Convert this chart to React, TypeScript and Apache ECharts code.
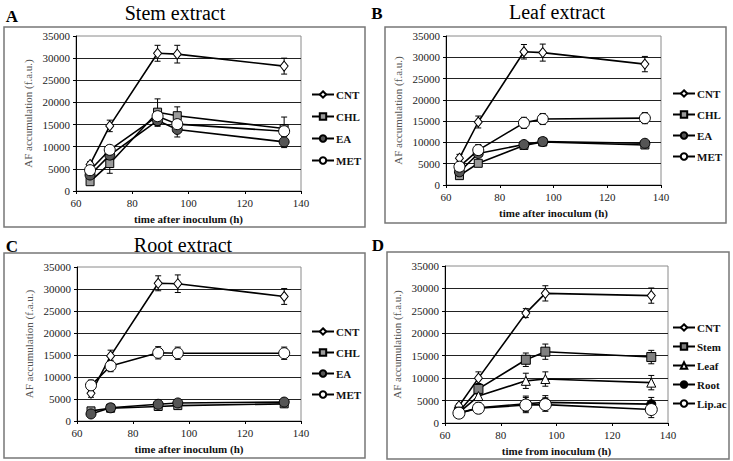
import React from "react";
import * as echarts from "echarts";

// sampling times (h) and axis ticks
const hours = [65, 72, 89, 96, 134];
const xTicks = [60, 80, 100, 120, 140];
const yTicks = [0, 5000, 10000, 15000, 20000, 25000, 30000, 35000];

const extractNames = ["CNT", "CHL", "EA", "MET"];
const organNames = ["CNT", "Stem", "Leaf", "Root", "Lip.ac"];

// A - stem extract
const stemCNT = [6000, 14700, 31100, 30900, 28200];
const stemCNTErr = [600, 1300, 1800, 2000, 1800];
const stemCHL = [2100, 6200, 17800, 17000, 14100];
const stemCHLErr = [400, 2200, 3000, 2000, 2600];
const stemEA = [3600, 8100, 15900, 13900, 11100];
const stemEAErr = [500, 800, 1300, 1700, 1300];
const stemMET = [4700, 9300, 16900, 15100, 13500];
const stemMETErr = [500, 800, 1200, 1300, 1200];

// B - leaf extract
const leafCNT = [6300, 14800, 31300, 31100, 28400];
const leafCNTErr = [900, 1400, 1700, 2000, 1800];
const leafCHL = [2200, 5100, 9300, 10100, 9400];
const leafCHLErr = [300, 400, 500, 500, 400];
const leafEA = [3100, 7400, 9500, 10200, 9800];
const leafEAErr = [400, 600, 500, 500, 500];
const leafMET = [4300, 8200, 14600, 15500, 15700];
const leafMETErr = [600, 1300, 1300, 1300, 1300];

// C - root extract
const rootCNT = [6300, 14800, 31300, 31200, 28300];
const rootCNTErr = [900, 1300, 1700, 2000, 1800];
const rootCHL = [2300, 2900, 3300, 3500, 3900];
const rootCHLErr = [300, 300, 300, 300, 300];
const rootEA = [1600, 3000, 3800, 4100, 4300];
const rootEAErr = [300, 300, 300, 300, 300];
const rootMET = [8100, 12500, 15500, 15400, 15400];
const rootMETErr = [1200, 1300, 1400, 1400, 1400];

// D - organs
const organCNT = [3800, 10000, 24500, 28900, 28400];
const organCNTErr = [500, 1400, 1000, 1700, 1700];
const organStem = [2500, 7600, 14100, 15900, 14700];
const organStemErr = [400, 1200, 1500, 1700, 1500];
const organLeaf = [2300, 6000, 9400, 9800, 9000];
const organLeafErr = [400, 1000, 1700, 1600, 1600];
const organRoot = [2200, 3400, 4300, 4600, 4200];
const organRootErr = [400, 900, 1700, 1500, 1500];
const organLip = [2200, 3300, 4000, 4100, 3000];
const organLipErr = [400, 1200, 1700, 1500, 1800];

const FONT = "'Liberation Serif', 'DejaVu Serif', serif";

type Mark = { symbol: string; size: number | number[]; fill: string };
const marks: Record<string, Mark> = {
  CNT: { symbol: "diamond", size: [8, 10], fill: "#fff" },
  CHL: { symbol: "rect", size: 8, fill: "#9a9a9a" },
  EA: { symbol: "circle", size: 10, fill: "#555" },
  MET: { symbol: "circle", size: 11, fill: "#fff" },
  Stem: { symbol: "rect", size: 9, fill: "#808080" },
  Leaf: { symbol: "triangle", size: 9, fill: "#fff" },
  Root: { symbol: "circle", size: 9, fill: "#000" },
  "Lip.ac": { symbol: "circle", size: 12, fill: "#fff" },
};

const panels = [
  {
    letter: "A", letterPos: [12, 16], title: "Stem extract", titlePos: [175, 13],
    grid: { left: 76, top: 36, width: 225, height: 155 },
    frame: [4, 27, 361, 200],
    legend: { left: 306, top: 84, itemGap: 11 },
    xName: "time after inoculum (h)",
    names: extractNames,
    values: [stemCNT, stemCHL, stemEA, stemMET],
    errors: [stemCNTErr, stemCHLErr, stemEAErr, stemMETErr],
  },
  {
    letter: "B", letterPos: [377, 13], title: "Leaf extract", titlePos: [557, 12],
    grid: { left: 446, top: 36, width: 215, height: 149 },
    frame: [385, 27, 341, 196],
    legend: { left: 667, top: 83, itemGap: 10 },
    xName: "time after inoculum (h)",
    names: extractNames,
    values: [leafCNT, leafCHL, leafEA, leafMET],
    errors: [leafCNTErr, leafCHLErr, leafEAErr, leafMETErr],
  },
  {
    letter: "C", letterPos: [12, 246], title: "Root extract", titlePos: [183, 245],
    grid: { left: 77, top: 267, width: 224, height: 154 },
    frame: [4, 253, 361, 205],
    legend: { left: 306, top: 321, itemGap: 10 },
    xName: "time after inoculum (h)",
    names: extractNames,
    values: [rootCNT, rootCHL, rootEA, rootMET],
    errors: [rootCNTErr, rootCHLErr, rootEAErr, rootMETErr],
  },
  {
    letter: "D", letterPos: [378, 245], title: "", titlePos: [0, 0],
    grid: { left: 445, top: 266, width: 223, height: 157 },
    frame: [387, 252, 342, 207],
    legend: { left: 667, top: 317, itemGap: 8 },
    xName: "time from inoculum (h)",
    names: organNames,
    values: [organCNT, organStem, organLeaf, organRoot, organLip],
    errors: [organCNTErr, organStemErr, organLeafErr, organRootErr, organLipErr],
  },
];

function errorBars(params: any, api: any) {
  const x = api.value(0);
  const top = api.coord([x, api.value(2)]);
  const bottom = api.coord([x, api.value(1)]);
  const w = 3;
  const style = { stroke: "#000", lineWidth: 1 };
  return {
    type: "group",
    children: [
      { type: "line", shape: { x1: top[0], y1: top[1], x2: bottom[0], y2: bottom[1] }, style },
      { type: "line", shape: { x1: top[0] - w, y1: top[1], x2: top[0] + w, y2: top[1] }, style },
      { type: "line", shape: { x1: bottom[0] - w, y1: bottom[1], x2: bottom[0] + w, y2: bottom[1] }, style },
    ],
  };
}

function buildOption() {
  const grid: any[] = [];
  const xAxis: any[] = [];
  const yAxis: any[] = [];
  const legend: any[] = [];
  const series: any[] = [];
  const graphic: any[] = [];

  panels.forEach((p, pi) => {
    grid.push({ ...p.grid, show: true, borderColor: "#8a8a8a", borderWidth: 1, backgroundColor: "transparent" });
    xAxis.push({
      gridIndex: pi, type: "value", min: xTicks[0], max: xTicks[xTicks.length - 1],
      interval: xTicks[1] - xTicks[0],
      name: p.xName, nameLocation: "middle", nameGap: 22,
      nameTextStyle: { fontFamily: FONT, fontSize: 11, fontWeight: "bold", color: "#111" },
      axisLine: { lineStyle: { color: "#000", width: 1 } },
      axisTick: { length: 3, lineStyle: { color: "#000" } },
      axisLabel: { fontFamily: FONT, fontSize: 11, color: "#222", margin: 6, formatter: (v: number) => String(v) },
      splitLine: { show: false },
    });
    yAxis.push({
      gridIndex: pi, type: "value", min: yTicks[0], max: yTicks[yTicks.length - 1],
      interval: yTicks[1] - yTicks[0],
      name: "AF accumulation (f.a.u.)", nameLocation: "middle", nameGap: 43,
      nameTextStyle: { fontFamily: FONT, fontSize: 11, color: "#555" },
      axisLine: { show: true, lineStyle: { color: "#000", width: 1 } },
      axisTick: { show: true, length: 3, lineStyle: { color: "#000" } },
      axisLabel: { fontFamily: FONT, fontSize: 11, color: "#222", margin: 6, formatter: (v: number) => String(v) },
      splitLine: { show: true, showMinLine: false, showMaxLine: false, lineStyle: { color: "#222", width: 1 } },
    });
    legend.push({
      data: p.names, orient: "vertical", left: p.legend.left, top: p.legend.top,
      itemGap: p.legend.itemGap, itemWidth: 22, itemHeight: 8,
      textStyle: { fontFamily: FONT, fontSize: 11, fontWeight: "bold", color: "#111", padding: [0, 0, 0, -3] },
      selectedMode: false,
    });

    p.names.forEach((name, si) => {
      const vals = p.values[si];
      const errs = p.errors[si];
      const m = marks[name];
      series.push({
        name: "err-" + p.letter + "-" + name, type: "custom", xAxisIndex: pi, yAxisIndex: pi,
        renderItem: errorBars, z: 1, silent: true,
        encode: { x: 0, y: [1, 2] },
        data: hours.map((h, i) => [h, vals[i] - errs[i], vals[i] + errs[i]]),
      });
      series.push({
        name, type: "line", xAxisIndex: pi, yAxisIndex: pi, z: 2 + si,
        symbol: m.symbol, symbolSize: m.size, showAllSymbol: true,
        itemStyle: { color: m.fill, borderColor: "#000", borderWidth: 1 },
        lineStyle: { color: "#000", width: 1.6 },
        data: hours.map((h, i) => [h, vals[i]]),
      });
    });

    const [fx, fy, fw, fh] = p.frame;
    graphic.push({ type: "rect", shape: { x: fx, y: fy, width: fw, height: fh }, style: { fill: "none", stroke: "#777", lineWidth: 1.5 }, silent: true });
    graphic.push({
      type: "text", x: p.letterPos[0], y: p.letterPos[1],
      style: { text: p.letter, font: "bold 17px " + FONT, fill: "#000", align: "center", verticalAlign: "middle", textAlign: "center", textVerticalAlign: "middle" },
    });
    if (p.title) {
      graphic.push({
        type: "text", x: p.titlePos[0], y: p.titlePos[1],
        style: { text: p.title, font: "20px " + FONT, fill: "#000", align: "center", verticalAlign: "middle", textAlign: "center", textVerticalAlign: "middle" },
      });
    }
  });

  return { animation: false, backgroundColor: "#fff", grid, xAxis, yAxis, legend, series, graphic };
}

export default function App() {
  const ref = React.useRef<HTMLDivElement>(null);

  React.useEffect(() => {
    if (!ref.current) return;
    const chart = echarts.init(ref.current, undefined, { renderer: "svg" });
    chart.setOption(buildOption());
    return () => chart.dispose();
  }, []);

  return <div ref={ref} style={{ position: "fixed", left: 0, top: 0, width: 733, height: 461 }} />;
}
